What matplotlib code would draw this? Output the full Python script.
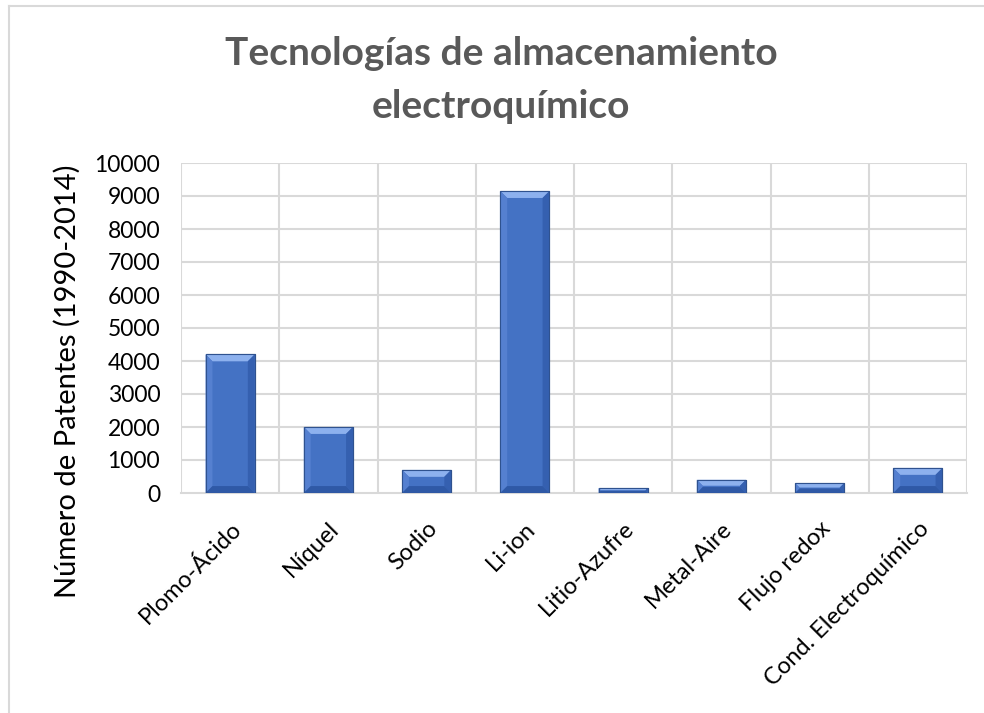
import matplotlib
matplotlib.use("Agg")
import matplotlib.pyplot as plt
from matplotlib.patches import Polygon, Rectangle
from matplotlib.lines import Line2D
import numpy as np

categories = ["Plomo-Ácido", "Níquel", "Sodio", "Li-ion", "Litio-Azufre",
              "Metal-Aire", "Flujo redox", "Cond. Electroquímico"]
patentes = [4200, 2000, 700, 9150, 150, 400, 300, 760]
y_ticks = [0, 1000, 2000, 3000, 4000, 5000, 6000, 7000, 8000, 9000, 10000]

plt.rcParams['font.family'] = ['Lato', 'DejaVu Sans']

W, H = 984, 713
fig = plt.figure(figsize=(W / 100, H / 100), dpi=100)

# chart area border (top and left edges)
border = "#D9D9D9"
fig.add_artist(Line2D([9 / W, 1.0], [1 - 6 / H, 1 - 6 / H], transform=fig.transFigure,
                      color=border, linewidth=1.5))
fig.add_artist(Line2D([9 / W, 9 / W], [0.0, 1 - 6 / H], transform=fig.transFigure,
                      color=border, linewidth=1.5))

left, right, top, bottom = 181, 967, 163, 493
ax = fig.add_axes([left / W, 1 - bottom / H, (right - left) / W, (bottom - top) / H])

x = np.arange(len(categories))
width = 0.5
base = "#4472C4"
ax.bar(x, patentes, width=width, color=base, edgecolor="#2F528F", linewidth=0.8, zorder=3)

# bevel facets on each bar
bevel_x = 0.07
bevel_y = 210
for xi, v in zip(x, patentes):
    by = min(bevel_y, v * 0.45)
    bx = bevel_x * by / bevel_y
    l, r = xi - width / 2, xi + width / 2
    ax.add_patch(Polygon([(l, v), (r, v), (r - bx, v - by), (l + bx, v - by)],
                         closed=True, facecolor="#8DB1EE", edgecolor="none", zorder=4))
    ax.add_patch(Polygon([(l, v), (l + bx, v - by), (l + bx, by), (l, 0)],
                         closed=True, facecolor="#5580D0", edgecolor="none", zorder=4))
    ax.add_patch(Polygon([(r, v), (r - bx, v - by), (r - bx, by), (r, 0)],
                         closed=True, facecolor="#3560B0", edgecolor="none", zorder=4))
    ax.add_patch(Polygon([(l, 0), (r, 0), (r - bx, by), (l + bx, by)],
                         closed=True, facecolor="#2F59A6", edgecolor="none", zorder=4))
    ax.add_patch(Rectangle((l, 0), width, v, fill=False, edgecolor="#2F528F",
                           linewidth=0.8, zorder=5))

ax.set_xlim(-0.5, len(categories) - 0.5)
ax.set_ylim(0, 10000)
ax.set_yticks(y_ticks)
ax.set_yticklabels([str(t) for t in y_ticks], fontsize=16.5, color="#000000")
ax.set_xticks(x)
ax.set_xticklabels(categories, rotation=45, ha="right", rotation_mode="anchor",
                   fontsize=17, color="#000000")
ax.tick_params(axis="y", length=0, pad=15)
ax.tick_params(axis="x", length=0, pad=18)

for yv in y_ticks[1:]:
    ax.axhline(yv, color="#D9D9D9", linewidth=1.5, zorder=1)
for xb in np.arange(-0.5, len(categories), 1.0):
    ax.axvline(xb, color="#D9D9D9", linewidth=1.5, zorder=1)

for s in ["top", "right", "left"]:
    ax.spines[s].set_visible(False)
ax.spines["bottom"].set_color("#D9D9D9")
ax.spines["bottom"].set_linewidth(1.5)
ax.spines["bottom"].set_zorder(2)

ax.set_ylabel("Número de Patentes (1990-2014)", fontsize=21, color="#000000",
              va="center")
ax.yaxis.set_label_coords((67 - left) / (right - left), (bottom - 381) / (bottom - top))

title_color = "#595959"
fig.text(501 / W, 1 - 65 / H, "Tecnologías de almacenamiento", ha="center", va="baseline",
         fontsize=28, fontweight="bold", color=title_color)
fig.text(501 / W, 1 - 118 / H, "electroquímico", ha="center", va="baseline",
         fontsize=28, fontweight="bold", color=title_color)

fig.savefig("out.png", dpi=100)
